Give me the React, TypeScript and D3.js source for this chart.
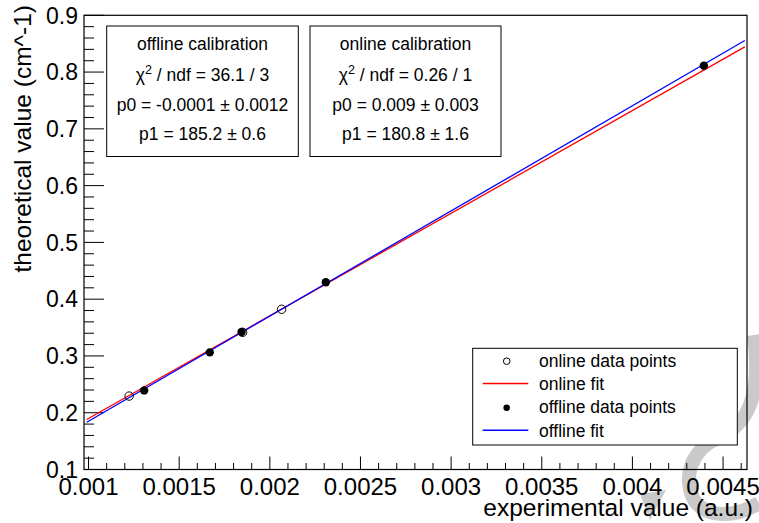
import React from "react";
import * as d3 from "d3";

// ---------- data ----------
const onlineX = [0.001224, 0.00185, 0.002065];
const onlineY = [0.2293, 0.3416, 0.3822];
const offlineX = [0.001307, 0.001669, 0.001844, 0.002309, 0.004394];
const offlineY = [0.2393, 0.3063, 0.3422, 0.4298, 0.8113];

const onlineFit = { p0: 0.009, p1: 180.8 };
const offlineFit = { p0: -0.0001, p1: 185.2 };
const fitRange = [0.00099, 0.00462];

const xTickValues = [0.001, 0.0015, 0.002, 0.0025, 0.003, 0.0035, 0.004, 0.0045];
const xTickLabels = ["0.001", "0.0015", "0.002", "0.0025", "0.003", "0.0035", "0.004", "0.0045"];
const yTickValues = [0.1, 0.2, 0.3, 0.4, 0.5, 0.6, 0.7, 0.8, 0.9];
const yTickLabels = ["0.1", "0.2", "0.3", "0.4", "0.5", "0.6", "0.7", "0.8", "0.9"];

const offlineBoxLines = ["offline calibration", "χ2 / ndf = 36.1 / 3", "p0 = -0.0001 ± 0.0012", "p1 = 185.2 ± 0.6"];
const onlineBoxLines = ["online calibration", "χ2 / ndf = 0.26 / 1", "p0 = 0.009 ± 0.003", "p1 = 180.8 ± 1.6"];

const legendLabels = ["online data points", "online fit", "offline data points", "offline fit"];

const xTitle = "experimental value (a.u.)";
const yTitle = "theoretical value (cm^-1)";

// ---------- layout ----------
const W = 759;
const H = 523;
const FL = 84, FR = 747, FT = 15.3, FB = 469.5;
const FONT = "'Liberation Sans', Arial, Helvetica, sans-serif";

const x = d3.scaleLinear().domain([0.000975, 0.004632]).range([FL, FR]);
const y = d3.scaleLinear().domain([0.1, 0.9]).range([FB, FT]);

const xMinor = d3.range(10, 47).filter((k) => k % 5 !== 0).map((k) => k * 0.0001);
const yMinor = d3.range(5, 46).filter((k) => k % 5 !== 0).map((k) => k * 0.02);

function StatLine({ text, cx, yb }: { text: string; cx: number; yb: number }) {
  if (text.startsWith("χ2")) {
    return (
      <text x={cx} y={yb} textAnchor="middle" fontSize={17.5} fontFamily={FONT}>
        <tspan>χ</tspan>
        <tspan fontSize={12.5} dy={-7}>2</tspan>
        <tspan dy={7}>{text.slice(2)}</tspan>
      </text>
    );
  }
  return (
    <text x={cx} y={yb} textAnchor="middle" fontSize={17.5} fontFamily={FONT}>
      {text}
    </text>
  );
}

function StatBox({ lines, x0, x1 }: { lines: string[]; x0: number; x1: number }) {
  const top = 26, bot = 156.5;
  const baselines = [50, 80.5, 110.5, 140];
  const cx = (x0 + x1) / 2;
  return (
    <g>
      <rect x={x0} y={top} width={x1 - x0} height={bot - top} fill="white" stroke="black" strokeWidth={1} />
      {lines.map((t, i) => (
        <StatLine key={i} text={t} cx={cx} yb={baselines[i]} />
      ))}
    </g>
  );
}

export default function App() {
  const fitPath = (f: { p0: number; p1: number }) =>
    d3
      .line<number>()
      .x((v) => x(v))
      .y((v) => y(f.p0 + f.p1 * v))(fitRange) as string;

  const legX0 = 472.7, legX1 = 737.3, legY0 = 348.3, legY1 = 445;
  const legBase = [366.7, 390, 413.3, 436.7];
  const legTextX = 539;
  const legSymX = 506.7;

  return (
    <svg
      width={W}
      height={H}
      style={{ position: "absolute", left: 0, top: 0, background: "white" }}
      fontFamily={FONT}
    >
      <rect x={0} y={0} width={W} height={H} fill="white" />

      {/* watermark approximation */}
      <path
        d="M 754 335 C 762 395, 748 425, 718 438 C 692 450, 682 475, 694 500 C 704 516, 732 520, 759 503"
        fill="none"
        stroke="#cacaca"
        strokeWidth={14}
      />
      <path d="M 640 494 L 666 490 L 650 520 Z" fill="#cacaca" />

      {/* frame */}
      <rect x={FL} y={FT} width={FR - FL} height={FB - FT} fill="none" stroke="black" strokeWidth={1.2} />

      {/* x ticks */}
      {xTickValues.map((v, i) => (
        <g key={"xt" + i}>
          <line x1={x(v)} x2={x(v)} y1={FB} y2={FB - 13} stroke="black" strokeWidth={1} />
          <text x={x(v)} y={494.5} textAnchor="middle" fontSize={24}>
            {xTickLabels[i]}
          </text>
        </g>
      ))}
      {xMinor.map((v, i) => (
        <line key={"xm" + i} x1={x(v)} x2={x(v)} y1={FB} y2={FB - 6.5} stroke="black" strokeWidth={1} />
      ))}

      {/* y ticks */}
      {yTickValues.map((v, i) => (
        <g key={"yt" + i}>
          <line x1={FL} x2={FL + 20} y1={y(v)} y2={y(v)} stroke="black" strokeWidth={1} />
          <text x={78} y={y(v)} dy="0.36em" textAnchor="end" fontSize={23}>
            {yTickLabels[i]}
          </text>
        </g>
      ))}
      {yMinor.map((v, i) => (
        <line key={"ym" + i} x1={FL} x2={FL + 10} y1={y(v)} y2={y(v)} stroke="black" strokeWidth={1} />
      ))}

      {/* axis titles */}
      <text x={753} y={516} textAnchor="end" fontSize={24.5}>
        {xTitle}
      </text>
      <text transform="translate(31,5) rotate(-90)" textAnchor="end" fontSize={24.5}>
        {yTitle}
      </text>

      {/* fit lines */}
      <path d={fitPath(onlineFit)} stroke="red" strokeWidth={1.3} fill="none" />
      <path d={fitPath(offlineFit)} stroke="blue" strokeWidth={1.3} fill="none" />

      {/* data points */}
      {onlineX.map((v, i) => (
        <circle key={"on" + i} cx={x(v)} cy={y(onlineY[i])} r={4.2} fill="none" stroke="black" strokeWidth={1} />
      ))}
      {offlineX.map((v, i) => (
        <circle key={"off" + i} cx={x(v)} cy={y(offlineY[i])} r={4.2} fill="black" />
      ))}

      {/* stat boxes */}
      <StatBox lines={offlineBoxLines} x0={106.7} x1={298.3} />
      <StatBox lines={onlineBoxLines} x0={310} x1={501} />

      {/* legend */}
      <rect x={legX0} y={legY0} width={legX1 - legX0} height={legY1 - legY0} fill="white" stroke="black" strokeWidth={1} />
      <circle cx={legSymX} cy={legBase[0] - 5.5} r={3.3} fill="none" stroke="black" strokeWidth={1} />
      <line x1={482.7} x2={528.3} y1={legBase[1] - 6.5} y2={legBase[1] - 6.5} stroke="red" strokeWidth={1.5} />
      <circle cx={legSymX} cy={legBase[2] - 5.5} r={3.3} fill="black" />
      <line x1={482.7} x2={528.3} y1={legBase[3] - 6.5} y2={legBase[3] - 6.5} stroke="blue" strokeWidth={1.5} />
      {legendLabels.map((t, i) => (
        <text key={"lg" + i} x={legTextX} y={legBase[i]} fontSize={17.5}>
          {t}
        </text>
      ))}
    </svg>
  );
}
